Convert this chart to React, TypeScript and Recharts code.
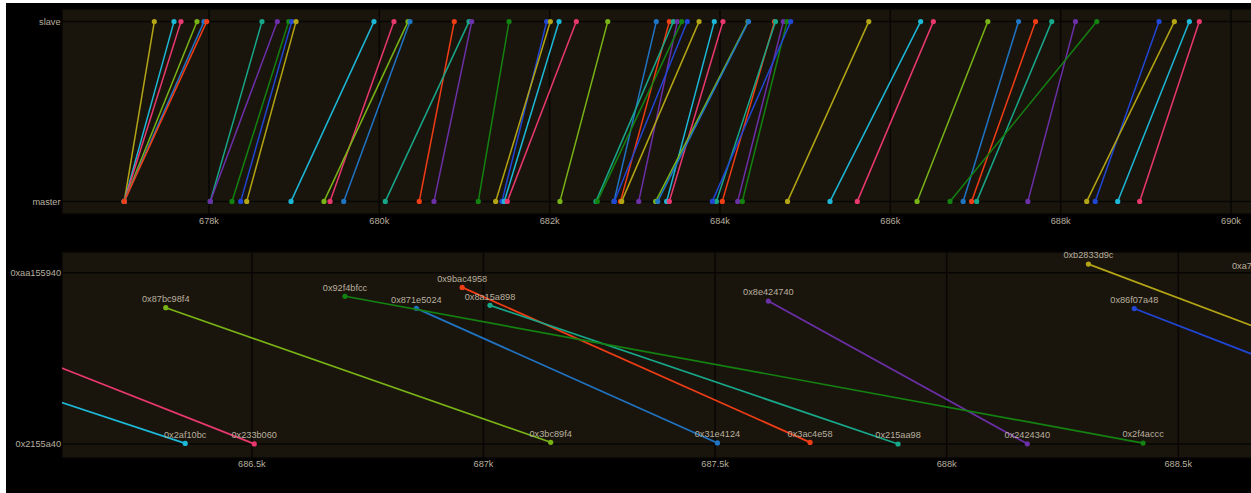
import { ScatterChart, Scatter, XAxis, YAxis, CartesianGrid, LabelList } from "recharts";

// colours cycle through this list in slave-apply order
const PALETTE = [
  "#b3a514",
  "#1cb8d8",
  "#e8386e",
  "#79b416",
  "#1f74c4",
  "#ef3d16",
  "#17a78a",
  "#6b2fa7",
  "#138211",
  "#2046d6",
];

// replication events (ms), ordered by slave time
const MASTER_T = [
  677005, 677005, 677005, 677005, 677005, 677005, 678015, 678015, 678270, 678372,
  678443, 678963, 679421, 679350, 679582, 680469, 680070, 680642, 681162, 681440,
  681366, 681467, 681503, 682121, 682755, 682832, 682544, 683046, 682559, 682759,
  682846, 683374, 683405, 683245, 683269, 684027, 683957, 684208, 684262, 683910,
  684793, 685292, 685612, 686314, 686855, 686954, 687014, 687615, 686701, 688405,
  688306, 688670, 688928,
];
const SLAVE_T = [
  677358, 677589, 677671, 677859, 677941, 677973, 678622, 678802, 678936, 678971,
  679022, 679937, 680172, 680337, 680360, 680880, 681053, 681085, 681523, 681965,
  682008, 682110, 682313, 682682, 683252, 683405, 683452, 683499, 683550, 683616,
  683754, 683933, 684035, 684329, 684335, 684640, 684652, 684743, 684787, 684830,
  685747, 686356, 686505, 687145, 687505, 687705, 687895, 688174, 688424, 689155,
  689335, 689511, 689628,
];

// addresses for the events shown in the zoomed address view (index 41..51)
const ADDR_FIRST = 41;
const MASTER_ADDR = [
  0xa2af18bc, 0xa233b460, 0x87bc98f4, 0x871e5024, 0x9bac4958, 0x8a15a898,
  0x8e424740, 0x92f4bfcc, 0x86f07a48, 0xb2833d9c, 0xa7d31b5c,
];
const SLAVE_ADDR = [
  0x2af10bc, 0x233b060, 0x3bc89f4, 0x31e4124, 0x3ac4e58, 0x215aa98,
  0x2424340, 0x2f4accc, 0x2f06a48, 0x2833a9c, 0x3d31b5c,
];

const TOP_TICKS = [678000, 680000, 682000, 684000, 686000, 688000, 690000];
const BOTTOM_TICKS = [686500, 687000, 687500, 688000, 688500];
const ADDR_TICKS = [0x2155a40, 0xaa155940];
const ROLE_TICKS = [0, 1];
const ROLE_LABELS = ["master", "slave"];

const PLOT_BG = "#1a150c";
const GRID = "#070604";
const TEXT = "#b8af9f";
const FONT = "Liberation Sans, Arial, sans-serif";

// plot rect of the address chart, used to clip point labels
const ADDR_PLOT = { x: 62, y: 12, width: 1208, height: 206 };

const tickStyle = { fill: TEXT, fontSize: 9.2, fontFamily: FONT };
const kFmt = (v: number) => `${v / 1000}k`;
const hex = (v: number) => "0x" + v.toString(16);

const dot = (color: string) => (p: any) =>
  <circle cx={p.cx} cy={p.cy} r={2.6} fill={color} />;

const AddrLabel = (props: any) => {
  const vb = props.viewBox ?? props;
  if (vb == null || vb.x == null) return null;
  const cx = vb.x + (vb.width ?? 0) / 2;
  if (cx < ADDR_PLOT.x - 60 || cx > ADDR_PLOT.x + ADDR_PLOT.width + 60) return null;
  const id = `addr-clip-${props.value}`;
  return (
    <g>
      <defs>
        <clipPath id={id}>
          <rect {...ADDR_PLOT} />
        </clipPath>
      </defs>
      <text
        x={cx}
        y={vb.y - 1.2}
        textAnchor="middle"
        fill={TEXT}
        fontSize={9.2}
        fontFamily={FONT}
        clipPath={`url(#${id})`}
      >
        {props.value}
      </text>
    </g>
  );
};

function RoleChart() {
  return (
    <ScatterChart width={1290} height={240} margin={{ top: 9, right: 20, bottom: 6, left: 0 }}>
      <CartesianGrid fill={PLOT_BG} stroke={GRID} strokeWidth={1.5} />
      <XAxis
        type="number"
        dataKey="x"
        domain={[676274, 690458]}
        allowDataOverflow
        ticks={TOP_TICKS}
        interval={0}
        tickFormatter={kFmt}
        axisLine={false}
        tickLine={false}
        tickSize={0}
        tickMargin={3.5}
        height={20}
        tick={tickStyle}
      />
      <YAxis
        type="number"
        dataKey="y"
        domain={[-0.07, 1.07]}
        allowDataOverflow
        ticks={ROLE_TICKS}
        interval={0}
        tickFormatter={(v: number) => ROLE_LABELS[v]}
        width={62}
        axisLine={false}
        tickLine={false}
        tickSize={0}
        tickMargin={1.5}
        tick={tickStyle}
      />
      {MASTER_T.map((m, i) => {
        const c = PALETTE[i % PALETTE.length];
        return (
          <Scatter
            key={i}
            data={[
              { x: m, y: 0 },
              { x: SLAVE_T[i], y: 1 },
            ]}
            fill={c}
            line={{ strokeWidth: 1.5 }}
            shape={dot(c)}
            isAnimationActive={false}
          />
        );
      })}
    </ScatterChart>
  );
}

function AddrChart() {
  return (
    <ScatterChart width={1290} height={253} margin={{ top: 12, right: 20, bottom: 15, left: 0 }}>
      <CartesianGrid fill={PLOT_BG} stroke={GRID} strokeWidth={1.5} />
      <XAxis
        type="number"
        dataKey="x"
        domain={[686090, 688698]}
        allowDataOverflow
        ticks={BOTTOM_TICKS}
        interval={0}
        tickFormatter={kFmt}
        axisLine={false}
        tickLine={false}
        tickSize={0}
        tickMargin={2.5}
        height={20}
        tick={tickStyle}
      />
      <YAxis
        type="number"
        dataKey="y"
        domain={[-195400000, 3194100000]}
        allowDataOverflow
        ticks={ADDR_TICKS}
        interval={0}
        tickFormatter={hex}
        width={62}
        axisLine={false}
        tickLine={false}
        tickSize={0}
        tickMargin={1}
        tick={tickStyle}
      />
      {MASTER_ADDR.map((a, j) => {
        const i = ADDR_FIRST + j;
        const c = PALETTE[i % PALETTE.length];
        return (
          <Scatter
            key={i}
            data={[
              { x: MASTER_T[i], y: a, label: hex(a) },
              { x: SLAVE_T[i], y: SLAVE_ADDR[j], label: hex(SLAVE_ADDR[j]) },
            ]}
            fill={c}
            line={{ strokeWidth: 1.7 }}
            shape={dot(c)}
            isAnimationActive={false}
          >
            <LabelList dataKey="label" position="top" content={AddrLabel} />
          </Scatter>
        );
      })}
    </ScatterChart>
  );
}

export default function App() {
  return (
    <div
      style={{
        position: "absolute",
        left: 0,
        top: 0,
        width: 1251,
        height: 493,
        overflow: "hidden",
        background: "#fff",
      }}
    >
      <div style={{ position: "absolute", left: 6, top: 3, width: 1245, height: 490, background: "#000" }} />
      <div style={{ position: "absolute", left: 0, top: 0 }}>
        <RoleChart />
      </div>
      <div style={{ position: "absolute", left: 0, top: 240 }}>
        <AddrChart />
      </div>
    </div>
  );
}
